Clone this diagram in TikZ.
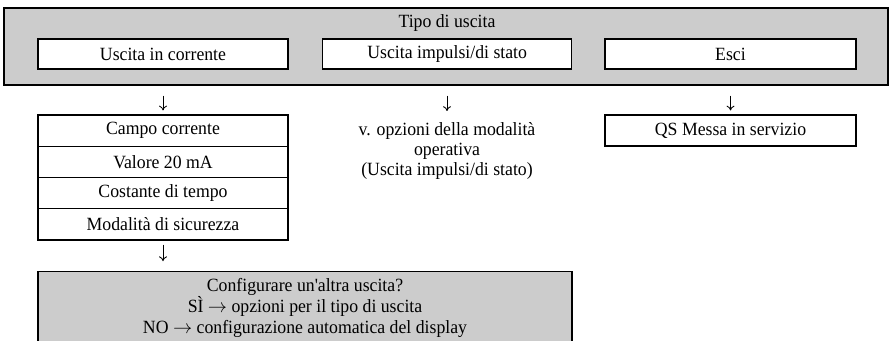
\documentclass[tikz,border=0pt]{standalone}
\usepackage{fontspec}
\setmainfont{Liberation Serif}[FakeStretch=0.95]
\newfontfamily\rawserif{Liberation Serif}[FakeStretch=0.95]
\usetikzlibrary{arrows.meta}
\definecolor{boxgray}{HTML}{CCCCCC}
\def\px{0.75pt}
\tikzset{
  graybox/.style={draw=black, line width=0.8pt, fill=boxgray, inner sep=0pt},
  whitebox/.style={draw=black, line width=0.8pt, fill=white, inner sep=0pt,
    minimum height=30*\px, font=\fontsize{14}{16}\selectfont},
  plain/.style={inner sep=0pt, font=\fontsize{14}{16}\selectfont},
  arr/.style={-{Computer Modern Rightarrow[length=3.6pt,width=6pt]}, line width=0.65pt}
}
\begin{document}
\begin{tikzpicture}[x=0.75pt,y=-0.75pt]
\useasboundingbox (0,0) rectangle (892,341);
\clip (0,0) rectangle (892,341);
\fill[white] (0,0) rectangle (892,341);
% top gray box
\node[graybox, minimum width=884*\px, minimum height=77*\px] (top) at (446,46.5) {};
\node[plain] (title) at (447,23) {Tipo di uscita};
\node[whitebox, minimum width=250*\px] (uic) at (163,54) {Uscita in corrente};
\node[whitebox, minimum width=249*\px] (uis) at (447.2,54) {Uscita impulsi/di stato};
\node[whitebox, minimum width=251*\px] (esc) at (730.5,54) {Esci};
% current output stack
\node[whitebox, minimum width=250*\px, minimum height=31.25*\px] (c1) at (163,130.6) {Campo corrente};
\node[whitebox, minimum width=250*\px, minimum height=31.25*\px] (c2) at (163,161.9) {Valore 20 mA};
\node[whitebox, minimum width=250*\px, minimum height=31.25*\px] (c3) at (163,193.1) {Costante di tempo};
\node[whitebox, minimum width=250*\px, minimum height=31.25*\px] (c4) at (163,224.4) {Modalità di sicurezza};
% middle text
\node[plain, align=center, font=\fontsize{14}{15}\selectfont] (mid) at (447,151)
  {v. opzioni della modalità\\operativa\\(Uscita impulsi/di stato)};
\coordinate (midtop) at (447,115);
% QS box
\node[whitebox, minimum width=251*\px, minimum height=31*\px] (qs) at (730.5,130.5) {QS Messa in servizio};
% bottom gray box
\node[graybox, minimum width=534*\px, minimum height=90*\px] (bot) at (305,316.7) {};
\node[plain, align=center, font=\fontsize{14}{16}\selectfont] (bottxt) at (305,308)
  {Configurare un{\rawserif '}altra uscita?\\SÌ $\rightarrow$ opzioni per il tipo di uscita\\NO $\rightarrow$ configurazione automatica del display};
% arrows
\draw[arr, shorten <=10*\px, shorten >=4*\px] (top.south -| c1.north) -- (c1.north);
\draw[arr, shorten <=10*\px, shorten >=4*\px] (top.south -| midtop) -- (midtop);
\draw[arr, shorten <=10*\px, shorten >=4*\px] (top.south -| qs.north) -- (qs.north);
\draw[arr, shorten <=4*\px, shorten >=10*\px] (c4.south) -- (c4.south |- bot.north);
\end{tikzpicture}
\end{document}
